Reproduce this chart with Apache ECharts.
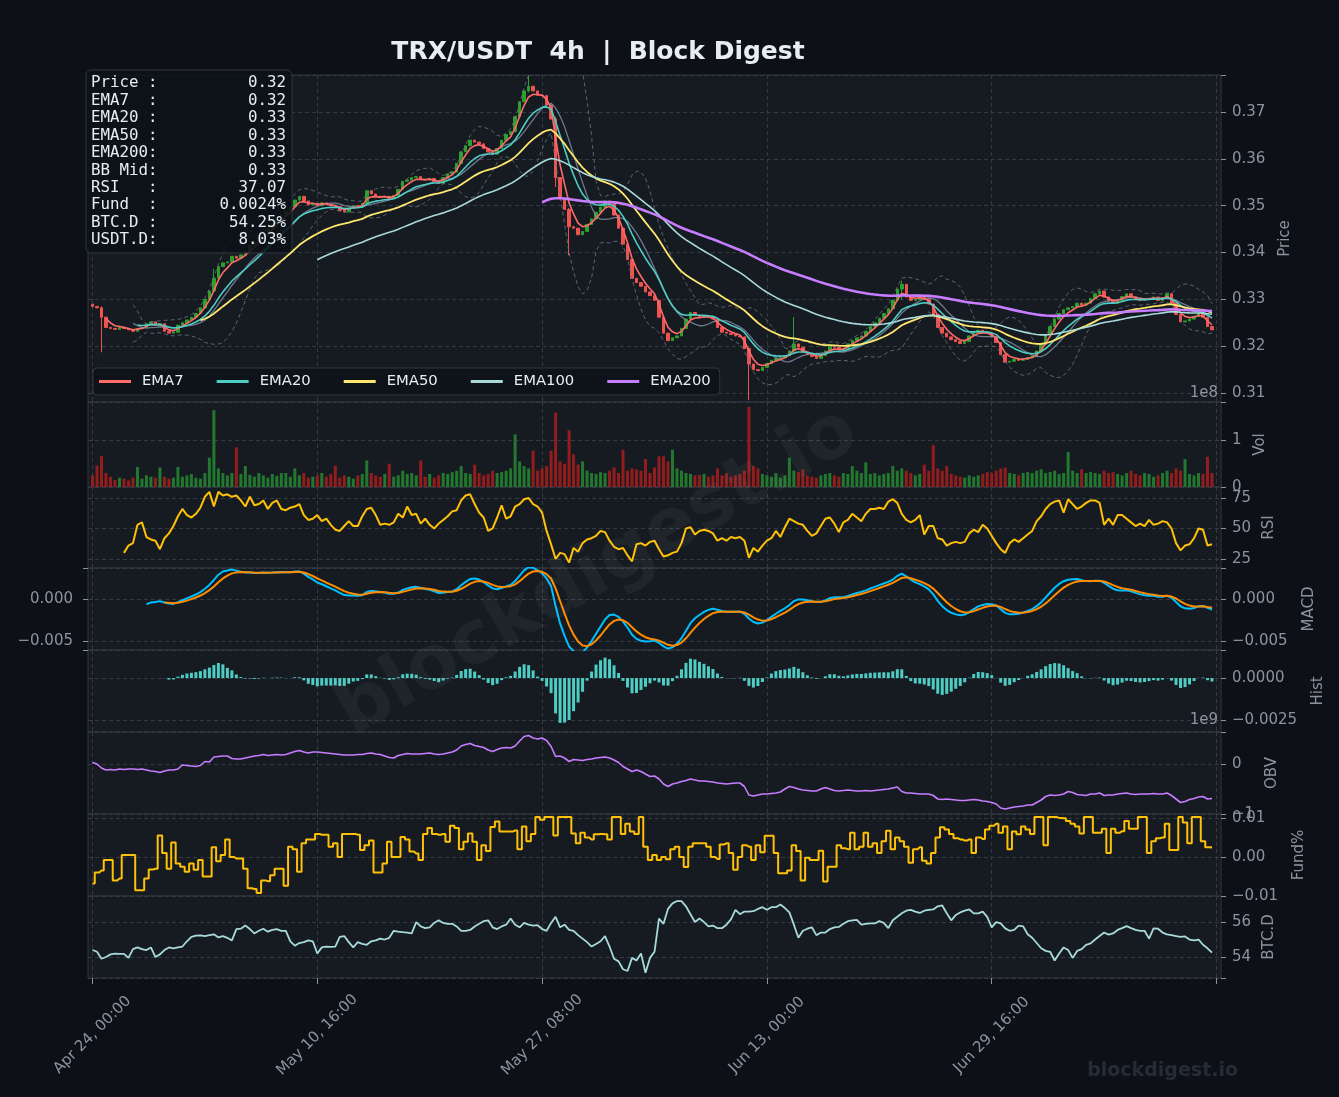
<!DOCTYPE html>
<html>
<head>
<meta charset="utf-8">
<title>TRX/USDT 4h | Block Digest</title>
<script src="https://cdn.jsdelivr.net/npm/echarts@6/dist/echarts.min.js"></script>
<style>
  html, body { margin: 0; padding: 0; background: #0d1117; }
  #chart { width: 1339px; height: 1097px; }
</style>
</head>
<body>
<div id="chart"></div>
<script>
// ---- data, one point per 8h step ----
const closes = [
  0.3285,0.3282,0.3262,0.3240,0.3238,0.3236,0.3240,0.3238,0.3235,0.3232,
  0.3238,0.3240,0.3248,0.3252,0.3245,0.3248,0.3232,0.3228,0.3230,0.3245,
  0.3250,0.3256,0.3262,0.3270,0.3282,0.3300,0.3318,0.3345,0.3370,0.3378,
  0.3380,0.3392,0.3388,0.3395,0.3402,0.3415,0.3420,0.3432,0.3445,0.3450,
  0.3462,0.3472,0.3480,0.3488,0.3498,0.3512,0.3520,0.3510,0.3502,0.3505,
  0.3500,0.3506,0.3503,0.3500,0.3498,0.3490,0.3487,0.3495,0.3500,0.3497,
  0.3505,0.3532,0.3525,0.3520,0.3518,0.3520,0.3515,0.3522,0.3535,0.3552,
  0.3555,0.3560,0.3562,0.3556,0.3555,0.3558,0.3552,0.3548,0.3560,0.3568,
  0.3572,0.3590,0.3615,0.3628,0.3640,0.3636,0.3632,0.3622,0.3615,0.3610,
  0.3622,0.3640,0.3652,0.3658,0.3690,0.3722,0.3745,0.3755,0.3745,0.3736,
  0.3735,0.3715,0.3685,0.3560,0.3515,0.3492,0.3455,0.3452,0.3438,0.3445,
  0.3460,0.3472,0.3486,0.3497,0.3510,0.3504,0.3480,0.3452,0.3418,0.3385,
  0.3345,0.3336,0.3328,0.3316,0.3308,0.3298,0.3262,0.3228,0.3212,0.3218,
  0.3222,0.3238,0.3258,0.3272,0.3266,0.3262,0.3265,0.3262,0.3258,0.3240,
  0.3230,0.3228,0.3225,0.3222,0.3220,0.3195,0.3162,0.3150,0.3148,0.3155,
  0.3163,0.3170,0.3174,0.3176,0.3180,0.3190,0.3205,0.3198,0.3188,0.3182,
  0.3178,0.3174,0.3180,0.3190,0.3200,0.3198,0.3192,0.3195,0.3205,0.3212,
  0.3218,0.3222,0.3232,0.3242,0.3250,0.3260,0.3270,0.3280,0.3298,0.3322,
  0.3332,0.3305,0.3298,0.3300,0.3305,0.3300,0.3290,0.3268,0.3240,0.3228,
  0.3220,0.3214,0.3210,0.3206,0.3210,0.3222,0.3230,0.3234,0.3230,0.3228,
  0.3220,0.3208,0.3182,0.3166,0.3168,0.3172,0.3170,0.3172,0.3176,0.3178,
  0.3190,0.3204,0.3225,0.3242,0.3258,0.3270,0.3278,0.3282,0.3285,0.3292,
  0.3288,0.3292,0.3302,0.3312,0.3318,0.3305,0.3296,0.3292,0.3298,0.3306,
  0.3312,0.3306,0.3300,0.3298,0.3300,0.3302,0.3305,0.3298,0.3304,0.3312,
  0.3292,0.3268,0.3252,0.3254,0.3258,0.3264,0.3270,0.3262,0.3242,0.3235
];
const firstOpen = 0.3290;
// [bar, high, low] for the long wicks that stand out
const wickMarks = [
  [2, 0.3285, 0.3187], [27, 0.3365, 0.3315], [97, 0.3778, 0.3742], [103, 0.3690, 0.3540],
  [106, 0.3495, 0.3394], [146, 0.3198, 0.3085], [156, 0.3262, 0.3188], [180, 0.3340, 0.3300]
];
const volumeE8 = [
  0.25,0.46,0.67,0.30,0.22,0.15,0.20,0.18,0.14,0.20,
  0.43,0.18,0.25,0.22,0.20,0.42,0.22,0.18,0.20,0.43,
  0.22,0.25,0.28,0.20,0.18,0.30,0.63,1.65,0.40,0.30,
  0.25,0.30,0.85,0.28,0.45,0.26,0.22,0.30,0.25,0.20,
  0.28,0.24,0.30,0.30,0.22,0.40,0.25,0.30,0.20,0.22,
  0.25,0.30,0.22,0.28,0.46,0.20,0.25,0.22,0.18,0.25,
  0.28,0.57,0.30,0.25,0.22,0.28,0.50,0.22,0.25,0.35,
  0.28,0.30,0.25,0.57,0.22,0.28,0.20,0.25,0.30,0.28,
  0.32,0.35,0.45,0.30,0.28,0.48,0.30,0.25,0.28,0.35,
  0.30,0.32,0.35,0.40,1.13,0.55,0.45,0.40,0.78,0.35,
  0.40,0.45,0.78,1.60,0.55,0.50,1.22,0.70,0.48,0.55,
  0.35,0.30,0.28,0.32,0.30,0.35,0.42,0.30,0.80,0.35,
  0.40,0.38,0.35,0.60,0.30,0.42,0.66,0.66,0.55,0.80,
  0.40,0.35,0.30,0.28,0.25,0.26,0.28,0.22,0.25,0.40,
  0.25,0.30,0.22,0.25,0.28,0.35,1.72,0.45,0.40,0.28,
  0.25,0.22,0.30,0.20,0.25,0.63,0.35,0.32,0.38,0.25,
  0.22,0.20,0.25,0.28,0.30,0.25,0.22,0.30,0.28,0.45,
  0.35,0.30,0.53,0.28,0.30,0.25,0.28,0.30,0.45,0.35,
  0.40,0.35,0.30,0.25,0.28,0.48,0.35,0.90,0.40,0.35,
  0.45,0.28,0.25,0.22,0.20,0.25,0.22,0.25,0.28,0.32,
  0.30,0.35,0.40,0.42,0.30,0.28,0.25,0.30,0.32,0.30,
  0.35,0.38,0.30,0.32,0.35,0.28,0.30,0.75,0.35,0.30,
  0.38,0.30,0.32,0.30,0.28,0.35,0.30,0.32,0.28,0.25,
  0.30,0.35,0.28,0.25,0.30,0.28,0.22,0.25,0.30,0.35,
  0.30,0.40,0.35,0.60,0.28,0.25,0.30,0.28,0.65,0.30
];
const rsi = [
  null,null,null,null,null,null,null,30,36,38,
  53,55,43,41,40,33,42,46,52,60,
  66,61,59,62,67,76,80,68,80,77,
  78,76,77,73,68,76,69,70,73,66,
  71,73,66,65,67,68,70,61,57,58,
  61,56,58,53,49,48,52,56,52,52,
  60,66,67,61,53,54,53,55,62,59,
  68,61,62,54,58,53,50,54,57,60,
  64,65,73,77,78,70,63,59,48,50,
  59,69,58,60,68,70,74,75,70,68,
  63,48,37,25,30,29,22,34,31,38,
  41,42,44,48,47,40,35,33,34,28,
  23,37,38,36,39,40,33,27,28,30,
  31,38,50,51,45,48,49,48,46,40,
  42,40,43,42,43,40,26,34,31,36,
  40,42,48,43,51,58,56,54,53,48,
  44,46,52,58,59,54,47,55,57,62,
  59,56,62,66,66,67,66,72,74,71,
  62,57,55,57,61,45,52,52,42,41,
  36,38,39,38,39,46,49,47,53,50,
  44,38,33,30,38,41,39,42,45,48,
  56,60,66,70,72,73,63,74,70,66,
  68,71,73,73,71,53,58,53,61,61,
  58,55,52,54,52,57,53,54,56,55,
  50,38,32,36,37,42,50,49,36,37.07
];
const obvE9 = [
  0.03,0.00,-0.08,-0.12,-0.11,-0.12,-0.10,-0.11,-0.10,-0.10,
  -0.11,-0.10,-0.12,-0.14,-0.15,-0.17,-0.14,-0.12,-0.12,-0.10,
  -0.02,-0.03,-0.04,-0.05,-0.03,0.05,0.04,0.14,0.15,0.16,
  0.16,0.11,0.10,0.10,0.12,0.14,0.16,0.17,0.19,0.17,
  0.18,0.19,0.18,0.19,0.22,0.25,0.27,0.24,0.22,0.24,
  0.24,0.23,0.22,0.21,0.20,0.19,0.18,0.18,0.18,0.19,
  0.19,0.21,0.22,0.20,0.19,0.16,0.13,0.12,0.17,0.19,
  0.21,0.20,0.20,0.20,0.21,0.22,0.20,0.19,0.20,0.22,
  0.24,0.28,0.36,0.39,0.41,0.37,0.35,0.33,0.28,0.25,
  0.29,0.32,0.33,0.32,0.36,0.46,0.55,0.57,0.52,0.50,
  0.52,0.47,0.35,0.15,0.16,0.12,0.05,0.09,0.08,0.07,
  0.09,0.10,0.12,0.13,0.14,0.12,0.08,0.03,-0.05,-0.10,
  -0.15,-0.12,-0.15,-0.20,-0.25,-0.24,-0.30,-0.40,-0.45,-0.40,
  -0.38,-0.35,-0.33,-0.30,-0.32,-0.34,-0.34,-0.35,-0.36,-0.38,
  -0.39,-0.40,-0.39,-0.38,-0.38,-0.45,-0.62,-0.64,-0.62,-0.60,
  -0.60,-0.59,-0.58,-0.56,-0.50,-0.45,-0.47,-0.50,-0.52,-0.53,
  -0.54,-0.54,-0.50,-0.47,-0.50,-0.53,-0.54,-0.53,-0.52,-0.53,
  -0.54,-0.54,-0.53,-0.54,-0.53,-0.52,-0.51,-0.50,-0.48,-0.46,
  -0.55,-0.58,-0.58,-0.59,-0.60,-0.60,-0.60,-0.63,-0.70,-0.71,
  -0.70,-0.71,-0.72,-0.73,-0.73,-0.72,-0.71,-0.72,-0.74,-0.75,
  -0.77,-0.80,-0.88,-0.90,-0.88,-0.86,-0.85,-0.84,-0.82,-0.82,
  -0.77,-0.72,-0.65,-0.62,-0.63,-0.62,-0.60,-0.55,-0.57,-0.61,
  -0.62,-0.63,-0.60,-0.60,-0.58,-0.63,-0.62,-0.62,-0.60,-0.59,
  -0.58,-0.60,-0.61,-0.60,-0.60,-0.60,-0.59,-0.60,-0.60,-0.58,
  -0.63,-0.70,-0.77,-0.75,-0.71,-0.69,-0.66,-0.65,-0.70,-0.69
];
const fundPct = [
  -0.0068,-0.0040,-0.0035,-0.0008,-0.0008,-0.0060,-0.0055,0.0005,0.0005,0.0005,
  -0.0085,-0.0085,-0.0055,-0.0032,-0.0030,0.0055,0.0010,-0.0030,0.0037,-0.0017,
  -0.0025,-0.0038,-0.0017,-0.0033,-0.0008,-0.0050,-0.0050,0.0025,-0.0011,0.0005,
  0.0045,0.0000,-0.0004,-0.0004,-0.0030,-0.0080,-0.0082,-0.0092,-0.0060,-0.0062,
  -0.0047,-0.0030,-0.0030,-0.0074,0.0026,0.0020,-0.0038,0.0035,0.0045,0.0045,
  0.0059,0.0057,0.0057,0.0026,0.0035,0.0000,0.0059,0.0059,0.0059,0.0057,
  0.0018,0.0030,0.0042,-0.0040,-0.0040,-0.0017,0.0039,0.0000,0.0000,0.0051,
  0.0045,0.0014,0.0009,-0.0008,0.0059,0.0074,0.0059,0.0057,0.0059,0.0039,
  0.0080,0.0074,0.0020,0.0039,0.0060,0.0039,-0.0008,0.0030,0.0015,0.0077,
  0.0091,0.0065,0.0065,0.0065,0.0068,0.0020,0.0078,0.0040,0.0059,0.0102,
  0.0095,0.0102,0.0102,0.0055,0.0102,0.0102,0.0102,0.0060,0.0035,0.0062,
  0.0050,0.0045,0.0058,0.0059,0.0058,0.0045,0.0102,0.0102,0.0059,0.0085,
  0.0065,0.0059,0.0102,0.0026,-0.0008,0.0005,-0.0008,0.0000,-0.0006,0.0020,
  0.0026,0.0000,-0.0026,0.0026,0.0035,0.0035,0.0035,0.0026,0.0000,-0.0005,
  0.0032,0.0035,0.0010,-0.0033,0.0000,0.0030,0.0026,-0.0008,0.0030,0.0012,
  0.0054,0.0054,0.0010,-0.0042,-0.0042,-0.0035,0.0030,0.0015,-0.0060,-0.0002,
  -0.0008,-0.0008,0.0016,-0.0063,-0.0025,-0.0025,0.0030,0.0022,0.0020,0.0062,
  0.0020,0.0026,0.0062,0.0026,0.0035,0.0010,0.0040,0.0067,0.0020,0.0050,
  0.0040,0.0026,-0.0015,0.0020,0.0025,-0.0010,-0.0017,0.0010,0.0050,0.0076,
  0.0070,0.0059,0.0048,0.0045,0.0042,0.0045,0.0010,0.0050,0.0046,0.0070,
  0.0080,0.0085,0.0062,0.0078,0.0020,0.0065,0.0058,0.0078,0.0070,0.0059,
  0.0102,0.0102,0.0030,0.0102,0.0102,0.0100,0.0099,0.0092,0.0085,0.0078,
  0.0060,0.0102,0.0102,0.0062,0.0062,0.0072,0.0010,0.0072,0.0062,0.0066,
  0.0092,0.0072,0.0072,0.0102,0.0102,0.0010,0.0040,0.0048,0.0050,0.0085,
  0.0018,0.0018,0.0102,0.0088,0.0035,0.0102,0.0102,0.0040,0.0025,0.0024
];
const btcDom = [
  54.40,54.30,53.90,54.00,54.15,54.20,54.18,54.18,53.95,54.45,
  54.55,54.45,54.40,54.55,54.00,54.15,54.40,54.55,54.50,54.55,
  54.60,54.90,55.15,55.22,55.24,55.20,55.25,55.30,55.12,55.20,
  55.10,54.95,55.60,55.62,55.80,55.60,55.35,55.50,55.62,55.45,
  55.55,55.60,55.50,55.50,54.90,54.65,54.80,54.85,54.95,54.90,
  54.20,54.55,54.60,54.58,54.60,55.15,55.20,54.85,54.55,54.85,
  54.75,54.70,54.90,54.95,55.05,55.00,55.10,55.50,55.45,55.42,
  55.40,55.35,56.00,55.75,55.65,55.70,55.95,56.10,55.95,55.90,
  55.90,55.75,55.50,55.50,55.55,55.75,55.90,56.05,56.10,55.70,
  55.60,55.75,55.85,56.20,55.85,55.70,55.95,55.85,55.80,55.82,
  55.60,55.50,55.95,56.30,55.70,55.85,55.55,55.50,55.25,55.05,
  54.85,54.60,54.75,54.90,55.20,54.60,53.90,53.75,53.30,53.20,
  53.95,53.80,54.20,53.10,53.95,54.30,56.20,55.90,56.75,57.07,
  57.20,57.20,56.90,56.45,56.00,56.20,56.00,55.75,55.80,55.65,
  55.65,55.85,56.15,56.70,56.45,56.60,56.60,56.62,56.75,56.85,
  56.70,56.85,56.85,57.00,56.80,56.55,55.85,55.10,55.50,55.62,
  55.70,55.25,55.40,55.40,55.60,55.70,55.72,55.90,56.05,56.10,
  56.12,55.85,55.90,55.92,55.92,56.05,55.95,55.65,56.10,56.30,
  56.50,56.65,56.70,56.60,56.52,56.65,56.70,56.72,56.90,56.95,
  56.50,56.10,56.40,56.55,56.65,56.72,56.50,56.50,56.60,56.30,
  55.70,56.00,55.92,55.64,55.50,55.55,55.80,55.75,55.30,55.10,
  54.80,54.50,54.35,54.30,53.80,54.20,54.55,54.40,53.95,54.35,
  54.45,54.70,54.78,55.00,55.20,55.40,55.28,55.35,55.55,55.65,
  55.77,55.65,55.55,55.50,55.50,55.05,55.64,55.62,55.40,55.30,
  55.25,55.20,55.15,55.18,55.00,54.95,55.00,54.70,54.50,54.25
];
const usdtDom = 8.03;

// x axis: 8h steps from Apr 24 00:00, one empty slot before the first bar
const MONTHS = ['Jan','Feb','Mar','Apr','May','Jun','Jul','Aug','Sep','Oct','Nov','Dec'];
const START = Date.UTC(2025, 3, 24, 0, 0);
const categories = [];
for (let k = 0; k < 253; k++) {
  const d = new Date(START + (k - 1) * 8 * 3600e3);
  categories.push(MONTHS[d.getUTCMonth()] + ' ' + String(d.getUTCDate()).padStart(2, '0') + ', ' +
    String(d.getUTCHours()).padStart(2, '0') + ':00');
}
const TICK_EVERY = 50;   // 50 x 8h = 16d 16h

// ---- indicators (4h spans expressed per 8h step) ----
function ema(src, span4h, start) {
  const a = 1 - Math.pow(1 - 2 / (span4h + 1), 2);
  let prev = null;
  return src.map((v, j) => {
    if (v == null) return null;
    prev = prev == null ? v : a * v + (1 - a) * prev;
    return j >= start ? prev : null;
  });
}
function bollinger(src, win, start) {
  const mid = [], up = [], lo = [];
  src.forEach((v, j) => {
    if (j < start || j < win - 1) { mid.push(null); up.push(null); lo.push(null); return; }
    const w = src.slice(j - win + 1, j + 1);
    const m = w.reduce((s, x) => s + x, 0) / win;
    const sd = Math.sqrt(w.reduce((s, x) => s + (x - m) * (x - m), 0) / (win - 1));
    mid.push(m); up.push(m + 2 * sd); lo.push(m - 2 * sd);
  });
  return { mid, up, lo };
}

const ema7 = ema(closes, 7, 3);
const ema20 = ema(closes, 20, 10);
const ema50 = ema(closes, 50, 24);
const ema100 = ema(closes, 100, 50);
const ema200 = ema(closes, 200, 100);
const bb = bollinger(closes, 10, 9);

const fast = ema(closes, 12, 0), slow = ema(closes, 26, 0);
const macd = closes.map((c, j) => j >= 12 ? fast[j] - slow[j] : null);
const signal = ema(macd, 9, 16);
const hist = macd.map((m, j) => (m != null && signal[j] != null) ? m - signal[j] : null);

const opens = closes.map((c, j) => j === 0 ? firstOpen : closes[j - 1]);
const candles = closes.map((c, j) => {
  const o = opens[j];
  let hi = Math.max(o, c), lo = Math.min(o, c);
  const w = wickMarks.find(m => m[0] === j);
  if (w) { hi = Math.max(hi, w[1]); lo = Math.min(lo, w[2]); }
  return [j + 1, o, c, lo, hi];
});

// ---- styling ----
const FONT = 'DejaVu Sans';
const GREY = '#8b949e';
const GRIDC = '#333a44';
const PANEL = '#161b22';
const UP = '#2ca02c', DOWN = '#ef5350';

const xy = arr => arr.map((v, j) => v == null ? null : [j + 1, v]).filter(p => p);
const isTick = idx => (idx - 1) >= 0 && (idx - 1) % TICK_EVERY === 0;
const isLabel = idx => isTick(idx) && (idx - 1) < 250;

function tickFmt(step, digits) {
  return v => {
    const r = v / step;
    if (Math.abs(r - Math.round(r)) > 1e-6) return '';
    const s = (Math.abs(v) < step * 1e-6 ? 0 : v).toFixed(digits);
    return s.replace('-', '\u2212');
  };
}

const GRID_TOP = [75, 402, 487, 568, 650, 732, 814, 896];
const GRID_H = [327, 85, 81, 82, 82, 82, 82, 82];

const grids = GRID_TOP.map((t, i) => ({
  left: 88, right: 118, top: t, height: GRID_H[i], show: true,
  backgroundColor: PANEL, borderColor: '#30363d', borderWidth: 1
}));

const xAxes = GRID_TOP.map((t, i) => {
  const last = i === GRID_TOP.length - 1;
  return {
    type: 'category', gridIndex: i, data: categories, boundaryGap: false,
    axisLine: { show: false },
    axisTick: { show: last, interval: isTick, length: 6, lineStyle: { color: GREY } },
    axisLabel: {
      show: last, interval: isLabel, rotate: 45, align: 'center', verticalAlign: 'middle',
      margin: 57, color: GREY, fontSize: 15, fontFamily: FONT
    },
    splitLine: { show: true, interval: isTick, lineStyle: { color: GRIDC, type: [4, 3] } }
  };
});

function yAx(grid, min, max, step, digits, name, gap, extra) {
  return Object.assign({
    type: 'value', gridIndex: grid, position: 'right', min: min, max: max,
    minInterval: step, maxInterval: step, splitNumber: 3, scale: true,
    name: name, nameLocation: 'middle', nameGap: gap, nameRotate: 90,
    nameTextStyle: { color: GREY, fontSize: 15, fontFamily: FONT },
    axisLine: { show: false },
    axisTick: { show: true, length: 5, lineStyle: { color: GREY } },
    axisLabel: { color: GREY, fontSize: 15, fontFamily: FONT, margin: 11, formatter: tickFmt(step, digits) },
    splitLine: { show: true, lineStyle: { color: GRIDC, type: [4, 3] } }
  }, extra || {});
}

const yAxes = [
  yAx(0, 0.3081, 0.3779, 0.01, 2, 'Price', 57),
  yAx(1, 0, 1.826, 1, 0, 'Vol', 30),
  yAx(2, 17.6, 84, 25, 0, 'RSI', 41),
  yAx(3, -0.00607, 0.00369, 0.005, 3, 'MACD', 81),
  yAx(4, -0.00321, 0.00167, 0.0025, 4, 'Hist', 90),
  yAx(5, -1, 0.64, 1, 0, 'OBV', 44),
  yAx(6, -0.01, 0.011, 0.01, 2, 'Fund%', 71),
  yAx(7, 52.8, 57.49, 2, 0, 'BTC.D', 40),
  yAx(3, -0.00607, 0.00369, 0.005, 3, '', 0, {
    position: 'left', splitLine: { show: false },
    axisLabel: { color: GREY, fontSize: 15, fontFamily: FONT, margin: 15, formatter: tickFmt(0.005, 3) }
  })
];

function line(name, data, xi, color, width, extra) {
  return Object.assign({
    name: name, type: 'line', xAxisIndex: xi, yAxisIndex: xi, data: xy(data),
    symbol: 'none', showSymbol: false, silent: true,
    lineStyle: { color: color, width: width }, itemStyle: { color: color }
  }, extra || {});
}

const series = [
  {
    name: 'Candles', type: 'candlestick', xAxisIndex: 0, yAxisIndex: 0, data: candles,
    encode: { x: 0, y: [1, 2, 3, 4] }, barWidth: 3, silent: true,
    itemStyle: { color: UP, color0: DOWN, borderColor: UP, borderColor0: DOWN, borderWidth: 1 }
  },
  line('BB Upper', bb.up, 0, '#6e7681', 1, { lineStyle: { color: '#6e7681', width: 1, type: [4, 3], opacity: 0.8 } }),
  line('BB Lower', bb.lo, 0, '#6e7681', 1, { lineStyle: { color: '#6e7681', width: 1, type: [4, 3], opacity: 0.8 } }),
  line('BB Mid', bb.mid, 0, '#7d8ba0', 1.3, { lineStyle: { color: '#7d8ba0', width: 1.3, opacity: 0.85 } }),
  line('EMA7', ema7, 0, '#ff6b6b', 1.6),
  line('EMA20', ema20, 0, '#4ecdc4', 1.6),
  line('EMA50', ema50, 0, '#ffe66d', 1.8),
  line('EMA100', ema100, 0, '#a8dadc', 1.6),
  line('EMA200', ema200, 0, '#c77dff', 2.6),
  {
    name: 'Vol', type: 'bar', xAxisIndex: 1, yAxisIndex: 1, barWidth: 3, silent: true,
    data: volumeE8.map((v, j) => ({
      value: [j + 1, v],
      itemStyle: { color: closes[j] >= opens[j] ? '#22782f' : '#931d1d' }
    }))
  },
  line('RSI', rsi, 2, '#ffc107', 2),
  line('MACD', macd, 3, '#00bfff', 2),
  line('Signal', signal, 3, '#ff8c00', 2),
  {
    name: 'Hist', type: 'bar', xAxisIndex: 4, yAxisIndex: 4, barWidth: 3, silent: true,
    data: xy(hist), itemStyle: { color: '#4ecdc4' }
  },
  line('OBV', obvE9, 5, '#c77dff', 1.6),
  line('Fund', fundPct, 6, '#ffc107', 2, { step: 'middle' }),
  line('BTC.D', btcDom, 7, '#a8dadc', 1.8)
];

const lastOf = arr => arr[arr.length - 1];
const infoLabels = ['Price :', 'EMA7  :', 'EMA20 :', 'EMA50 :', 'EMA200:', 'BB Mid:', 'RSI   :', 'Fund  :', 'BTC.D :', 'USDT.D:'];
const infoValues = [
  lastOf(closes).toFixed(2), lastOf(ema7).toFixed(2), lastOf(ema20).toFixed(2), lastOf(ema50).toFixed(2),
  lastOf(ema200).toFixed(2), lastOf(bb.mid).toFixed(2), lastOf(rsi).toFixed(2),
  lastOf(fundPct).toFixed(4) + '%', lastOf(btcDom).toFixed(2) + '%', usdtDom.toFixed(2) + '%'
];

const graphic = [
  {
    type: 'text', x: 598, y: 52, z: 100,
    style: { text: 'TRX/USDT  4h  |  Block Digest', fill: '#e6edf3', font: 'bold 25px DejaVu Sans',
      textAlign: 'center', textVerticalAlign: 'middle', align: 'center', verticalAlign: 'middle' }
  },
  {
    type: 'text', x: 598, y: 573, rotation: Math.PI / 6, z: 50, silent: true,
    style: { text: 'blockdigest.io', fill: 'rgba(255,255,255,0.045)', font: 'bold 74px DejaVu Sans',
      textAlign: 'center', textVerticalAlign: 'middle', align: 'center', verticalAlign: 'middle' }
  },
  {
    type: 'text', x: 1238, y: 1071, z: 100,
    style: { text: 'blockdigest.io', fill: '#262c35', font: 'bold 19px DejaVu Sans',
      textAlign: 'right', textVerticalAlign: 'middle', align: 'right', verticalAlign: 'middle' }
  },
  {
    type: 'rect', z: 100, shape: { x: 86, y: 70, width: 206, height: 183, r: 5 },
    style: { fill: 'rgba(13,17,23,0.88)', stroke: '#30363d', lineWidth: 1 }
  },
  {
    type: 'text', x: 91, y: 74.5, z: 101,
    style: { text: infoLabels.join('\n'), fill: '#e6edf3', font: '15.8px DejaVu Sans Mono', lineHeight: 17.45,
      textAlign: 'left', textVerticalAlign: 'top', align: 'left', verticalAlign: 'top' }
  },
  {
    type: 'text', x: 286, y: 74.5, z: 101,
    style: { text: infoValues.join('\n'), fill: '#e6edf3', font: '15.8px DejaVu Sans Mono', lineHeight: 17.45,
      textAlign: 'right', textVerticalAlign: 'top', align: 'right', verticalAlign: 'top' }
  },
  {
    type: 'text', x: 1218, y: 393, z: 100,
    style: { text: '1e8', fill: GREY, font: '15px DejaVu Sans', textAlign: 'right', textVerticalAlign: 'middle',
      align: 'right', verticalAlign: 'middle' }
  },
  {
    type: 'text', x: 1218, y: 720, z: 100,
    style: { text: '1e9', fill: GREY, font: '15px DejaVu Sans', textAlign: 'right', textVerticalAlign: 'middle',
      align: 'right', verticalAlign: 'middle' }
  }
];

const legendNames = ['EMA7', 'EMA20', 'EMA50', 'EMA100', 'EMA200'];

const chart = echarts.init(document.getElementById('chart'), null, { renderer: 'canvas' });
chart.setOption({
  backgroundColor: '#0d1117',
  animation: false,
  grid: grids,
  xAxis: xAxes,
  yAxis: yAxes,
  legend: {
    data: legendNames.map(n => ({ name: n, icon: 'rect' })),
    left: 93, top: 368, orient: 'horizontal',
    itemWidth: 32, itemHeight: 3, itemGap: 33,
    padding: [5, 9, 5, 6],
    backgroundColor: 'rgba(13,17,23,0.85)', borderColor: '#30363d', borderWidth: 1, borderRadius: 4,
    textStyle: { color: '#e6edf3', fontSize: 14.8, fontFamily: FONT, padding: [0, 0, 0, 6], lineHeight: 17 },
    selectedMode: false
  },
  graphic: graphic,
  series: series
});
</script>
</body>
</html>
